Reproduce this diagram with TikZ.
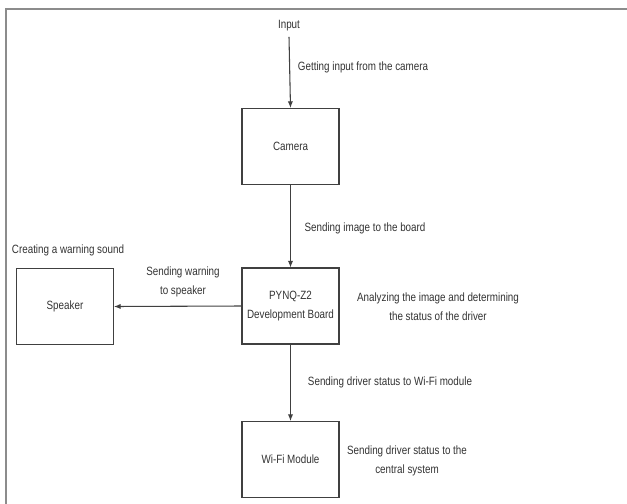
\documentclass[tikz,border=0pt]{standalone}
\usepackage{fontspec}
\setmainfont{Liberation Sans}[FakeStretch=0.82]
\usetikzlibrary{arrows.meta}
\tikzset{
  block/.style={draw=black!75, line width=0.8pt, minimum width=72.75pt, minimum height=57pt, inner sep=0pt, align=center, text=black!80},
  note/.style={text=black!80, align=center, inner sep=1pt},
  flow/.style={draw=black!75, line width=0.8pt, -{Latex[length=5pt,width=4pt]}}
}
\begin{document}
\begin{tikzpicture}[x=0.75pt,y=-0.75pt,font=\fontsize{9}{14}\selectfont]
  \useasboundingbox (0,0) rectangle (627,503);
  % Frame
  \draw[black!45, line width=1.5pt] (6,540) -- (6,9) -- (660,9);
  % Blocks
  \node[block] (camera) at (290.5,146.5) {Camera};
  \node[block] (board) at (290.5,306) {PYNQ-Z2\\Development Board};
  \node[block] (speaker) at (65,306.5) {Speaker};
  \node[block] (wifi) at (290.5,459.5) {Wi-Fi Module};
  % Input
  \node[note, inner sep=4pt] (input) at (289,26) {Input};
  % Arrows
  \draw[flow] (input.south) -- (camera.north);
  \draw[flow] (camera.south) -- (board.north);
  \draw[flow] (board.west) -- (speaker.east);
  \draw[flow] (board.south) -- (wifi.north);
  % Labels
  \node[note] (getlbl) at (363,67) {Getting input from the camera};
  \node[note] (imglbl) at (365,228) {Sending image to the board};
  \node[note] (soundlbl) at (68,250) {Creating a warning sound};
  \node[note] (warnlbl) at (183,282) {Sending warning\\to speaker};
  \node[note] (analbl) at (438,307) {Analyzing the image and determining\\the status of the driver};
  \node[note] (statlbl) at (390,382) {Sending driver status to Wi-Fi module};
  \node[note] (centlbl) at (407,461) {Sending driver status to the\\central system};
\end{tikzpicture}
\end{document}
